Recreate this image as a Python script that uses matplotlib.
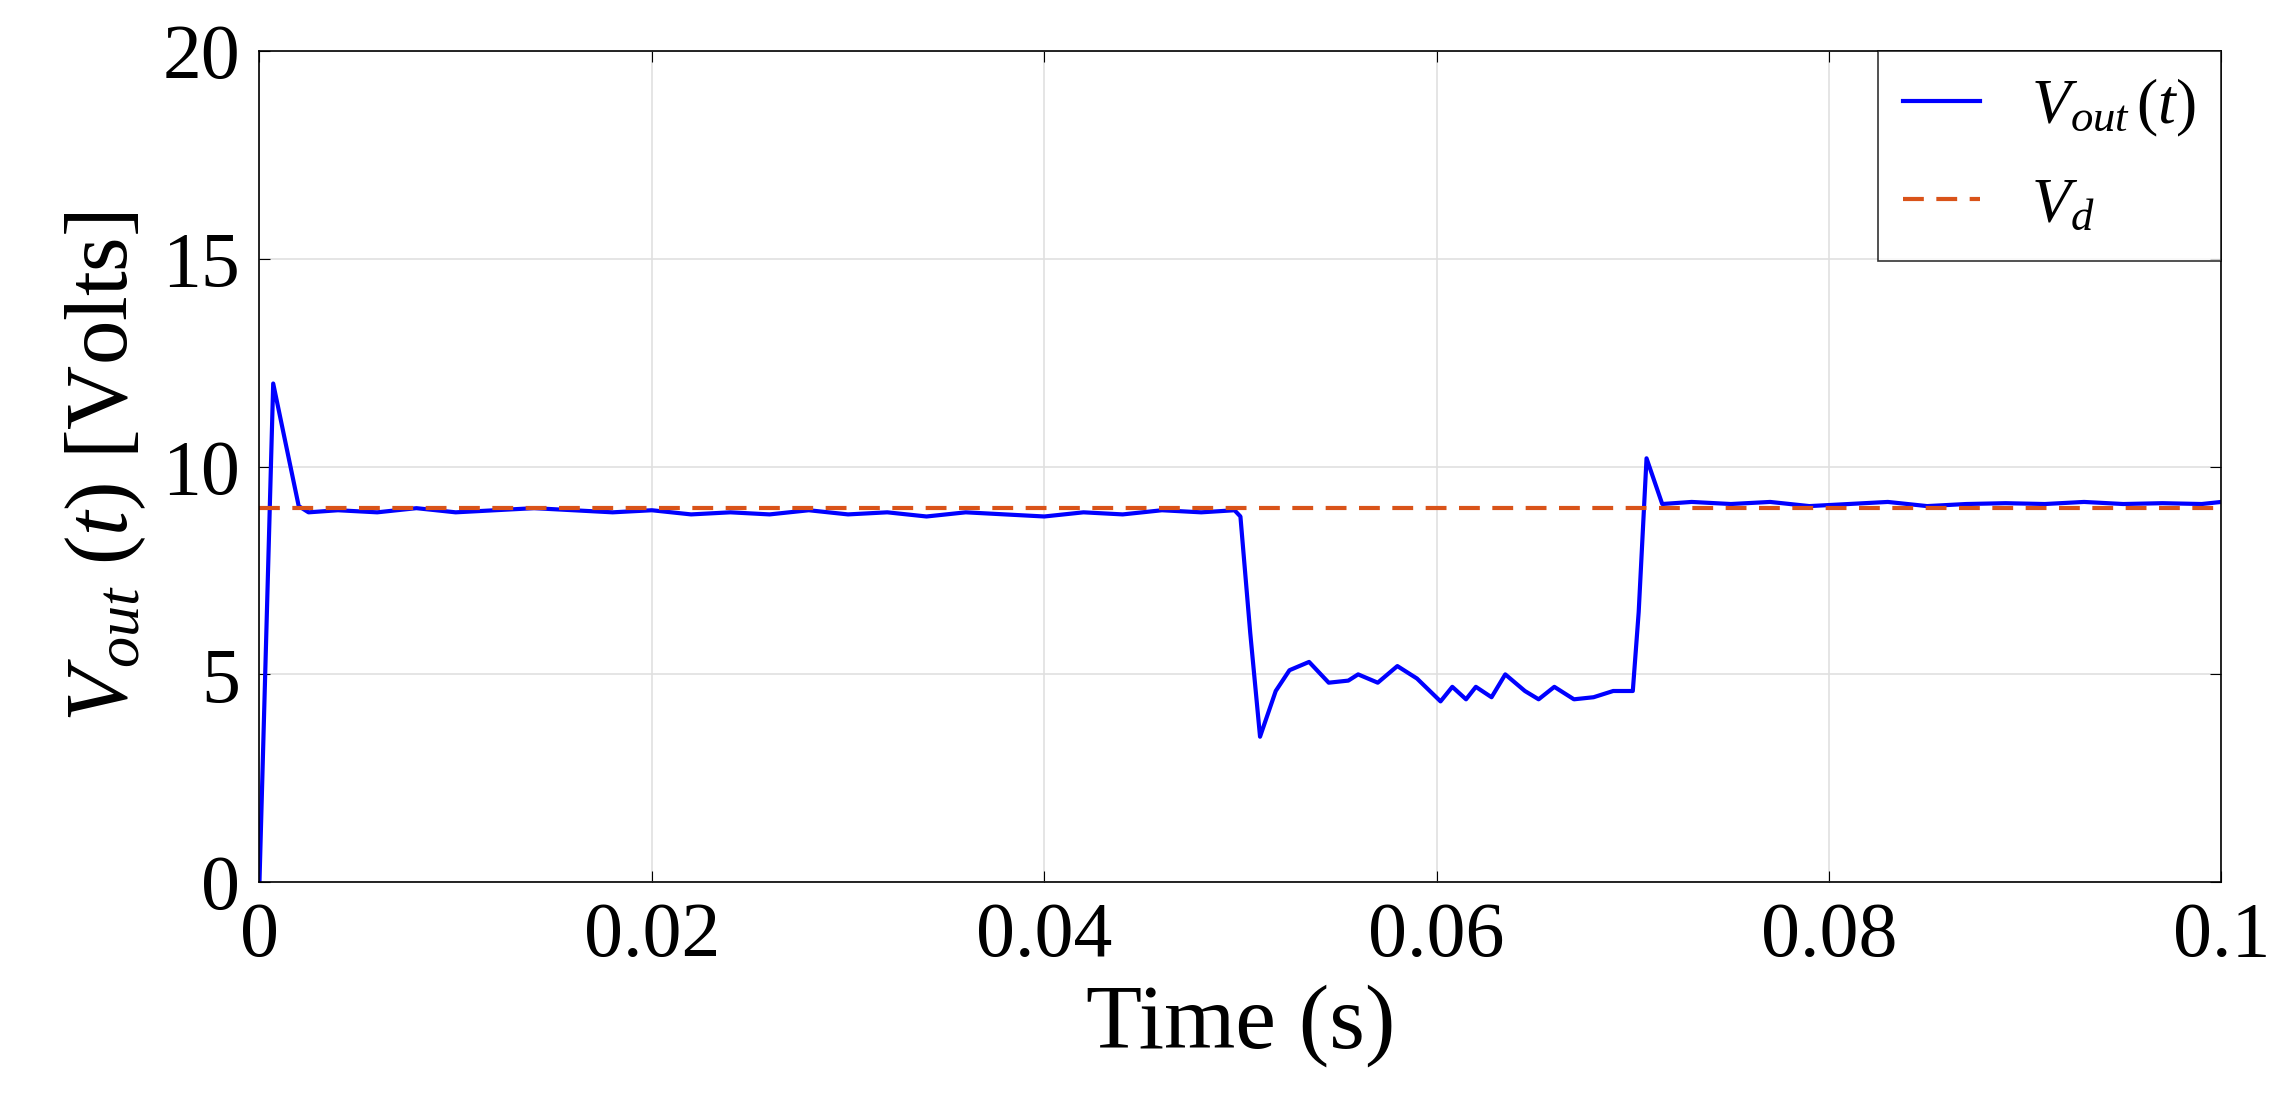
import matplotlib
matplotlib.use("Agg")
import matplotlib.pyplot as plt
import numpy as np

plt.rcParams['font.family'] = ['Liberation Serif', 'DejaVu Serif']
plt.rcParams['mathtext.fontset'] = 'custom'
plt.rcParams['mathtext.rm'] = 'Liberation Serif'
plt.rcParams['mathtext.it'] = 'Liberation Serif:italic'

t_pts = [0, 0.0007, 0.002, 0.0025, 0.004, 0.006, 0.008, 0.010, 0.012, 0.014, 0.016, 0.018, 0.020,
         0.022, 0.024, 0.026, 0.028, 0.030, 0.032, 0.034, 0.036, 0.038, 0.040, 0.042, 0.044,
         0.046, 0.048, 0.0497, 0.0500, 0.0505, 0.0510, 0.0518, 0.0525, 0.0535, 0.0545,
         0.0555, 0.0560, 0.0570, 0.0580, 0.0590, 0.0602, 0.0608, 0.0615, 0.0620, 0.0628,
         0.0635, 0.0645, 0.0652, 0.0660, 0.0670, 0.0680, 0.0690, 0.0700, 0.0703, 0.0707,
         0.0715, 0.073, 0.075, 0.077, 0.079, 0.081, 0.083, 0.085, 0.087, 0.089, 0.091,
         0.093, 0.095, 0.097, 0.099, 0.100]
v_pts = [0, 12.0, 9.05, 8.9, 8.95, 8.9, 9.0, 8.9, 8.95, 9.0, 8.95, 8.9, 8.95,
         8.85, 8.9, 8.85, 8.95, 8.85, 8.9, 8.8, 8.9, 8.85, 8.8, 8.9, 8.85,
         8.95, 8.9, 8.95, 8.8, 6.0, 3.5, 4.6, 5.1, 5.3, 4.8,
         4.85, 5.0, 4.8, 5.2, 4.9, 4.35, 4.7, 4.4, 4.7, 4.45,
         5.0, 4.6, 4.4, 4.7, 4.4, 4.45, 4.6, 4.6, 6.5, 10.2,
         9.1, 9.15, 9.1, 9.15, 9.05, 9.1, 9.15, 9.05, 9.1, 9.12, 9.1,
         9.15, 9.1, 9.12, 9.1, 9.15]
v_desired = 9.0

fig = plt.figure(figsize=(22.76, 11.11), dpi=100)
ax = fig.add_axes([0.114, 0.206, 0.862, 0.748])
ax.plot(t_pts, v_pts, color='#0000ff', lw=3, label=r'$V_{out}\,(t)$')
ax.axhline(v_desired, color='#d95319', lw=3, ls=(0, (5, 3)), label=r'$V_d$')
ax.set_xlim(0, 0.1)
ax.set_ylim(0, 20)
ax.set_xticks([0, 0.02, 0.04, 0.06, 0.08, 0.1])
ax.set_xticklabels(['0', '0.02', '0.04', '0.06', '0.08', '0.1'])
ax.set_yticks([0, 5, 10, 15, 20])
ax.grid(True, color='#e0e0e0', lw=1.2)
ax.tick_params(labelsize=56, direction='in', length=8, top=True, right=True, pad=14)
for s in ax.spines.values():
    s.set_linewidth(1.2)
ax.set_xlabel('Time (s)', fontsize=66, labelpad=8)
ax.set_ylabel(r'$V_{out}\ (t)$ [Volts]', fontsize=64, labelpad=10)
leg = ax.legend(loc='upper right', fontsize=46, frameon=True, fancybox=False,
                edgecolor='black', borderaxespad=0, handlelength=1.2,
                labelspacing=0.6)
leg.get_frame().set_linewidth(1.2)
fig.savefig('out.png', dpi=100)
